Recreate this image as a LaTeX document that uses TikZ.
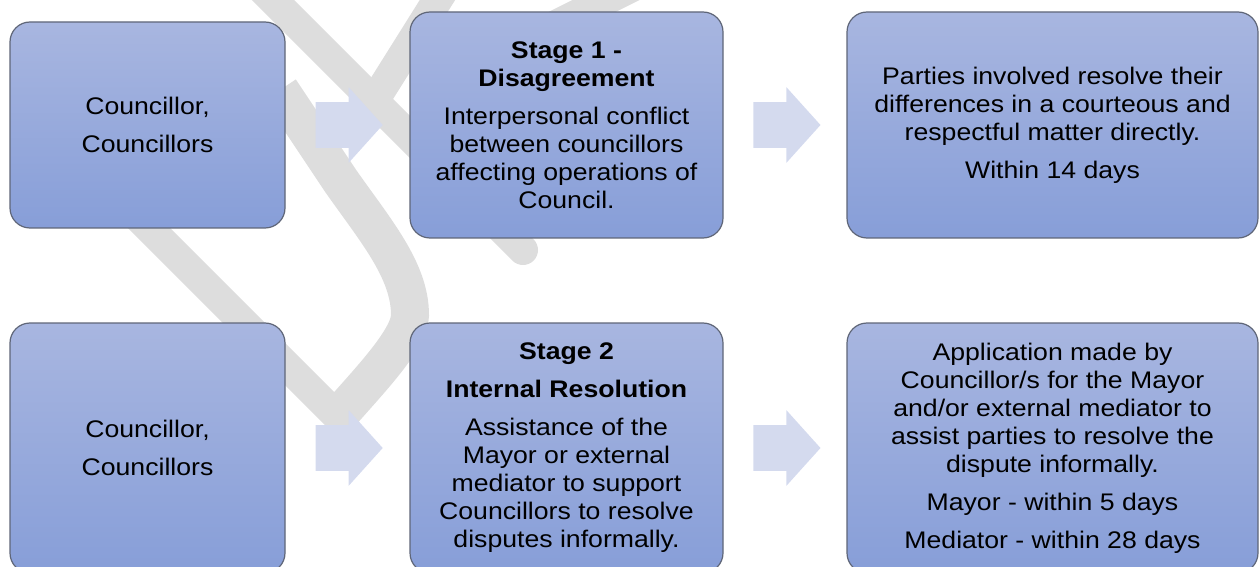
\documentclass[tikz,border=0pt]{standalone}
\usepackage{fontspec}
\setmainfont{Liberation Sans}[FakeStretch=1.11]
\usetikzlibrary{shapes.arrows,calc}

\definecolor{boxtop}{RGB}{168,182,224}
\definecolor{boxbot}{RGB}{135,158,216}
\definecolor{boxline}{RGB}{95,102,120}
\definecolor{arrowfill}{RGB}{212,218,238}
\definecolor{markgray}{RGB}{221,221,221}

\begin{document}
\begin{tikzpicture}[x=0.5pt,y=-0.5pt,
        stagebox/.style={draw=boxline,line width=0.6pt,rounded corners=10pt,
            top color=boxtop,bottom color=boxbot,align=center,inner sep=0pt,
            font=\fontsize{12}{14}\selectfont},
        flowarrow/.style={single arrow,draw=none,fill=arrowfill,inner xsep=0pt,
            inner ysep=11.25pt,minimum height=33.5pt,anchor=tail,
            single arrow head extend=7.5pt,single arrow tip angle=96},
        band/.style={draw=markgray,line width=15pt}]
                \useasboundingbox (0,0) rectangle (1260,567);
                \clip (0,0) rectangle (1260,567);
                %% watermark
                \draw[band,line cap=round] (253,-20) -- (523,250);
                \draw[band] (450,-20) -- (376,98);
                \draw[band] (646,-20) -- (526,40);
                \draw[band] (70,149) -- (346,425);
                \draw[band,line width=19pt] (280,90) -- (340,180) .. controls (375,230) and (410,270) .. (410,315)
                    .. controls (410,340) and (365,385) .. (335,420);
                %% top row
                \node[stagebox,minimum width=137.5pt,minimum height=103pt] (who1) at (147.5,125)
                    {Councillor,\\[5pt]Councillors};
                \node[stagebox,minimum width=156.5pt,minimum height=113pt] (stage1) at (566.5,125)
                    {\textbf{Stage 1 -}\\\textbf{Disagreement}\\[5pt]Interpersonal conflict\\between councillors\\affecting operations of\\Council.};
                \node[stagebox,minimum width=205.5pt,minimum height=113pt] (act1) at (1052.5,125)
                    {Parties involved resolve their\\differences in a courteous and\\respectful matter directly.\\[5pt]Within 14 days};
                %% bottom row
                \node[stagebox,minimum width=137.5pt,minimum height=125pt] (who2) at (147.5,448)
                    {Councillor,\\[5pt]Councillors};
                \node[stagebox,minimum width=156.5pt,minimum height=125pt] (stage2) at (566.5,448)
                    {\textbf{Stage 2}\\[5pt]\textbf{Internal Resolution}\\[5pt]Assistance of the\\Mayor or external\\mediator to support\\Councillors to resolve\\disputes informally.};
                \node[stagebox,minimum width=205.5pt,minimum height=125pt] (act2) at (1052.5,448)
                    {Application made by\\Councillor/s for the Mayor\\and/or external mediator to\\assist parties to resolve the\\dispute informally.\\[5pt]Mayor - within 5 days\\[5pt]Mediator - within 28 days};
                %% arrows
                \node[flowarrow] (ar11) at ($(who1.east)!.24!(stage1.west)$) {};
                \node[flowarrow] (ar12) at ($(stage1.east)!.24!(act1.west)$) {};
                \node[flowarrow] (ar21) at ($(who2.east)!.24!(stage2.west)$) {};
                \node[flowarrow] (ar22) at ($(stage2.east)!.24!(act2.west)$) {};
            \end{tikzpicture}
\end{document}
